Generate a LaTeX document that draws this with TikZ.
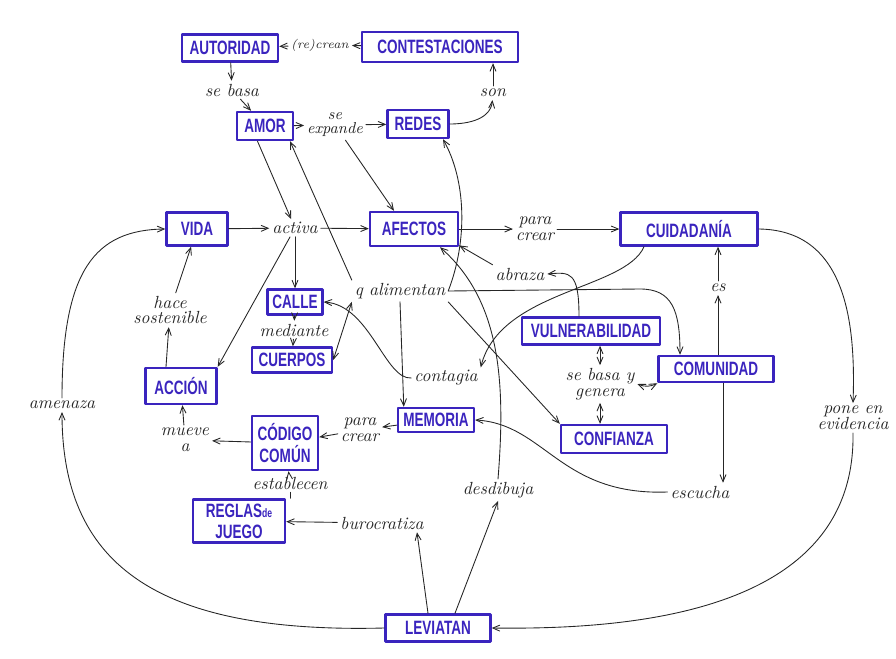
\documentclass[tikz,border=0pt]{standalone}
\usepackage{fontspec}
\newfontfamily\capsfont[FakeStretch=0.7]{Liberation Sans}
\usepackage{tikz}
\usetikzlibrary{arrows}
\definecolor{boxblue}{RGB}{58,36,190}

\begin{document}
\begin{tikzpicture}[line cap=round,line join=round,>=angle 45,x=0.02cm,y=-0.02cm, color=black!85, line width=0.5pt,
    box/.style={draw=boxblue, line width=1.4pt, text=boxblue, font=\capsfont\bfseries\fontsize{11}{12}\selectfont, inner sep=1pt, align=center},
    rel/.style={font=\itshape, inner sep=1.5pt, align=center}]
    \useasboundingbox (0,0) rectangle (896,659);

    % concepts
    \node[box, minimum width=1.92cm, minimum height=0.54cm] (autoridad) at (230,48) {AUTORIDAD};
    \node[box, minimum width=3.12cm, minimum height=0.6cm] (contestaciones) at (440,47) {CONTESTACIONES};
    \node[box, minimum width=1.12cm, minimum height=0.56cm] (amor) at (265,126) {AMOR};
    \node[box, minimum width=1.22cm, minimum height=0.56cm] (redes) at (418,124) {REDES};
    \node[box, minimum width=1.22cm, minimum height=0.66cm] (vida) at (197,229) {VIDA};
    \node[box, minimum width=1.76cm, minimum height=0.68cm] (afectos) at (414,229) {AFECTOS};
    \node[box, minimum width=2.74cm, minimum height=0.66cm] (cuidadania) at (689,229) {CUIDADANÍA};
    \node[box, minimum width=1.1cm, minimum height=0.5cm] (calle) at (295,302) {CALLE};
    \node[box, minimum width=1.6cm, minimum height=0.5cm] (cuerpos) at (292,360) {CUERPOS};
    \node[box, minimum width=2.76cm, minimum height=0.54cm] (vulnerabilidad) at (591,331) {VULNERABILIDAD};
    \node[box, minimum width=2.3cm, minimum height=0.52cm] (comunidad) at (716,369) {COMUNIDAD};
    \node[box, minimum width=1.42cm, minimum height=0.72cm] (accion) at (181,386) {ACCIÓN};
    \node[box, minimum width=1.52cm, minimum height=0.48cm] (memoria) at (436,420) {MEMORIA};
    \node[box, minimum width=1.32cm, minimum height=1.08cm] (codigo) at (285,443) {CÓDIGO\\COMÚN};
    \node[box, minimum width=2.12cm, minimum height=0.56cm] (confianza) at (614,439) {CONFIANZA};
    \node[box, minimum width=1.84cm, minimum height=0.86cm] (reglas) at (239,521) {REGLAS{\scriptsize de}\\JUEGO};
    \node[box, minimum width=2.1cm, minimum height=0.54cm] (leviatan) at (438,628) {LEVIATAN};

    % links
    \node[rel, font=\itshape\scriptsize] (cuestionan) at (320,45) {(re)crean};
    \node[rel] (sebasa) at (232,90) {se basa};
    \node[rel] (son) at (493,93) {son};
    \node[rel, font=\itshape\small] (expande) at (335,125) {se\\[-3pt]expande};
    \node[rel] (activa) at (295,228) {activa};
    \node[rel] (paracrear) at (535,229) {para\\[-3pt]crear};
    \node[rel] (hace) at (170,310) {hace\\[-3pt]sostenible};
    \node[rel] (mediante) at (294,330) {mediante};
    \node[rel] (alimentan) at (400,291) {q alimentan};
    \node[rel] (abraza) at (520,274) {abraza};
    \node[rel] (es) at (718,288) {es};
    \node[rel] (contagia) at (446,378) {contagia};
    \node[rel] (basagenera) at (600,384) {se basa y\\[-3pt]genera};
    \node[rel] (paracrea) at (360,430) {para\\[-3pt]crear};
    \node[rel] (mueve) at (185,440) {mueve\\[-3pt]a};
    \node[rel] (establecen) at (290,483) {establecen};
    \node[rel] (desdibuja) at (498,490) {desdibuja};
    \node[rel] (escucha) at (700,492) {escucha};
    \node[rel] (evidencia) at (853,418) {pone en\\[-3pt]evidencia};
    \node[rel] (amenaza) at (62,405) {amenaza};
    \node[rel] (burocratiza) at (382,523) {burocratiza};

    % connectors
    \draw[->] (contestaciones) -- (cuestionan);
    \draw[->] (cuestionan) -- (autoridad);
    \draw[->] (autoridad) -- (sebasa);
    \draw[->] (sebasa) -- (amor);
    \draw[->] (amor) -- (expande);
    \draw[->] (expande) -- (redes);
    \draw[->] (redes.east) to[out=0,in=-95] (son);
    \draw[->] (son) -- (son |- contestaciones.south);
    \draw[->] (expande) -- ([xshift=-0.4cm]afectos.north);
    \draw[->] ([xshift=-0.15cm]amor.south) -- (activa);
    \draw[->] (vida) -- (activa);
    \draw[->] (activa) -- (afectos);
    \draw[->] (activa) -- (calle);
    \draw[->] (activa) -- (accion.north east);
    \draw[->] (calle) -- (mediante);
    \draw[->] (mediante) -- (cuerpos);
    \draw[<->] (cuerpos.east) -- (alimentan.south west);
    \draw[->] (alimentan.north west) -- ([xshift=0.5cm]amor.south);
    \draw[->] (alimentan.east) .. controls (468,240) and (466,180) .. ([xshift=0.5cm]redes.south);
    \draw[->] (alimentan.east) -- (640,289) .. controls (672,289) and (680,310) .. ([xshift=-0.72cm]comunidad.north);
    \draw[->] (alimentan.south) -- ([xshift=0.14cm]memoria.north west);
    \draw[->] (alimentan.south east) -- (confianza.north west);
    \draw[->] (desdibuja.north) .. controls (506,380) and (500,300) .. (afectos.-35);
    \draw[->] ([xshift=-0.24cm]vulnerabilidad.north) .. controls ([xshift=-0.24cm,yshift=0.9cm]vulnerabilidad.north) and (570,272) .. (abraza.east);
    \draw[->] (abraza.north west) -- (afectos.-20);
    \draw[->] ([xshift=-0.9cm]cuidadania.south) .. controls (625,290) and (500,290) .. (contagia.north east);
    \draw[->] (contagia.west) .. controls (385,380) and (370,305) .. (calle.east);
    \draw[<->] (basagenera.north) -- (basagenera.north |- vulnerabilidad.south);
    \draw[<->] (basagenera.south) -- (basagenera.south |- confianza.north);
    \draw[<->] (basagenera.east) to[bend right=25] (comunidad.south west);
    \draw[->] (es |- comunidad.north) -- (es);
    \draw[->] (es) -- (es |- cuidadania.south);
    \draw[->] ([xshift=0.14cm]comunidad.south) -- ([xshift=0.14cm]comunidad.south |- escucha.north);
    \draw[->] (escucha.west) .. controls (560,496) and (545,424) .. (memoria.east);
    \draw[->] (cuidadania.east) .. controls (845,230) and (856,320) .. (evidencia.north);
    \draw[->] (evidencia.south) .. controls (856,610) and (640,630) .. (leviatan.east);
    \draw[->] (leviatan.west) .. controls (150,634) and (62,560) .. (amenaza.south);
    \draw[->] (amenaza.north) .. controls (62,270) and (95,230) .. (vida.west);
    \draw[->] ([xshift=-0.2cm]leviatan.north) -- ([xshift=0.7cm]burocratiza.south);
    \draw[->] (burocratiza) -- (reglas);
    \draw[->] ([xshift=0.34cm]leviatan.north) -- (desdibuja.south);
    \draw (reglas.north -| establecen) -- (establecen);
    \draw[->] (establecen) -- (codigo);
    \draw[->] (memoria) -- (paracrea);
    \draw[->] (paracrea) -- (codigo);
    \draw[->] (codigo) -- (mueve);
    \draw[->] (mueve) -- (accion);
    \draw[->] ([xshift=-0.3cm]accion.north) -- (hace);
    \draw[->] (hace) -- (vida);
    \draw[->] (afectos) -- (paracrear);
    \draw[->] (paracrear) -- (cuidadania);
\end{tikzpicture}
\end{document}
